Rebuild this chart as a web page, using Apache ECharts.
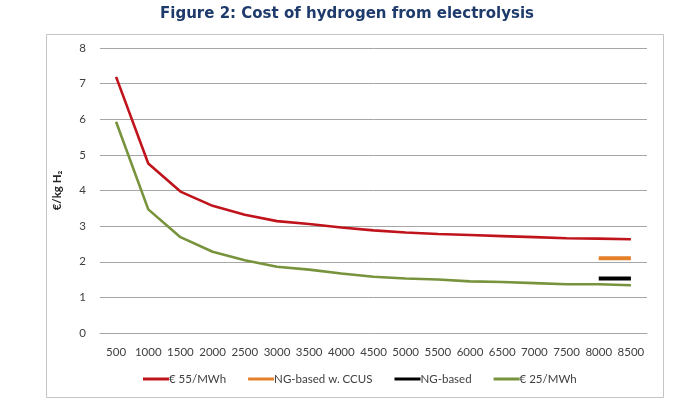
<!DOCTYPE html>
<html>
<head>
<meta charset="utf-8">
<script src="https://cdn.jsdelivr.net/npm/echarts@6/dist/echarts.min.js"></script>
<style>
html, body { margin: 0; padding: 0; background: #fff; }
#main { width: 694px; height: 416px; }
</style>
</head>
<body>
<div id="main"></div>
<script>
// hours of operation per year
var hours = ['500', '1000', '1500', '2000', '2500', '3000', '3500', '4000', '4500',
    '5000', '5500', '6000', '6500', '7000', '7500', '8000', '8500'];
// cost of hydrogen, EUR/kg H2
var cost55 = [7.19, 4.76, 3.97, 3.57, 3.32, 3.14, 3.06, 2.96, 2.88, 2.82, 2.78, 2.75, 2.72, 2.69, 2.66, 2.65, 2.63];
var cost25 = [5.93, 3.47, 2.69, 2.28, 2.04, 1.86, 1.78, 1.67, 1.58, 1.53, 1.50, 1.45, 1.43, 1.40, 1.37, 1.37, 1.34];
var ngCcus = [null, null, null, null, null, null, null, null, null, null, null, null, null, null, null, 2.1, 2.1];
var ngBased = [null, null, null, null, null, null, null, null, null, null, null, null, null, null, null, 1.53, 1.53];
var yTicks = [0, 1, 2, 3, 4, 5, 6, 7, 8];

var labelFont = 'Lato';
var myChart = echarts.init(document.getElementById('main'));

function lineSeries(name, data, color, width) {
    return {
        name: name,
        type: 'line',
        data: data,
        symbol: 'none',
        connectNulls: false,
        lineStyle: { color: color, width: width },
        itemStyle: { color: color }
    };
}

var option = {
    animation: false,
    title: {
        text: 'Figure 2: Cost of hydrogen from electrolysis',
        left: 'center',
        top: 2,
        textStyle: { fontFamily: 'DejaVu Sans', fontWeight: 'bold', fontSize: 15, color: '#1f3b6c' }
    },
    graphic: [{
        type: 'rect',
        shape: { x: 46.5, y: 34.5, width: 617, height: 363 },
        style: { fill: 'none', stroke: '#c4c4c4', lineWidth: 1 },
        z: -1
    }],
    legend: {
        bottom: 26,
        left: 138,
        itemWidth: 26,
        itemHeight: 3,
        itemGap: 22,
        icon: 'rect',
        textStyle: { fontFamily: labelFont, fontSize: 11.5, color: '#404040', padding: [0, 0, 0, -5] },
        data: ['€ 55/MWh', 'NG-based w. CCUS', 'NG-based', '€ 25/MWh']
    },
    grid: { left: 100, right: 47, top: 48, bottom: 83 },
    xAxis: {
        type: 'category',
        data: hours,
        boundaryGap: true,
        axisLine: { lineStyle: { color: '#a6a6a6' } },
        axisTick: { show: false },
        axisLabel: { interval: 0, margin: 13, fontFamily: labelFont, fontSize: 11.5, color: '#404040' }
    },
    yAxis: {
        type: 'value',
        min: yTicks[0],
        max: yTicks[yTicks.length - 1],
        interval: 1,
        name: '€/kg H₂',
        nameLocation: 'middle',
        nameGap: 37,
        nameTextStyle: { fontFamily: labelFont, fontWeight: 'bold', fontSize: 11.5, color: '#262626' },
        axisLine: { show: false },
        axisTick: { show: false },
        axisLabel: { margin: 14, fontFamily: labelFont, fontSize: 11.5, color: '#404040' },
        splitLine: { lineStyle: { color: '#a6a6a6' } }
    },
    series: [
        lineSeries('€ 55/MWh', cost55, '#c0141c', 2.6),
        lineSeries('NG-based w. CCUS', ngCcus, '#e5802a', 4),
        lineSeries('NG-based', ngBased, '#000000', 4),
        lineSeries('€ 25/MWh', cost25, '#77933c', 2.6)
    ]
};
myChart.setOption(option);
</script>
</body>
</html>
